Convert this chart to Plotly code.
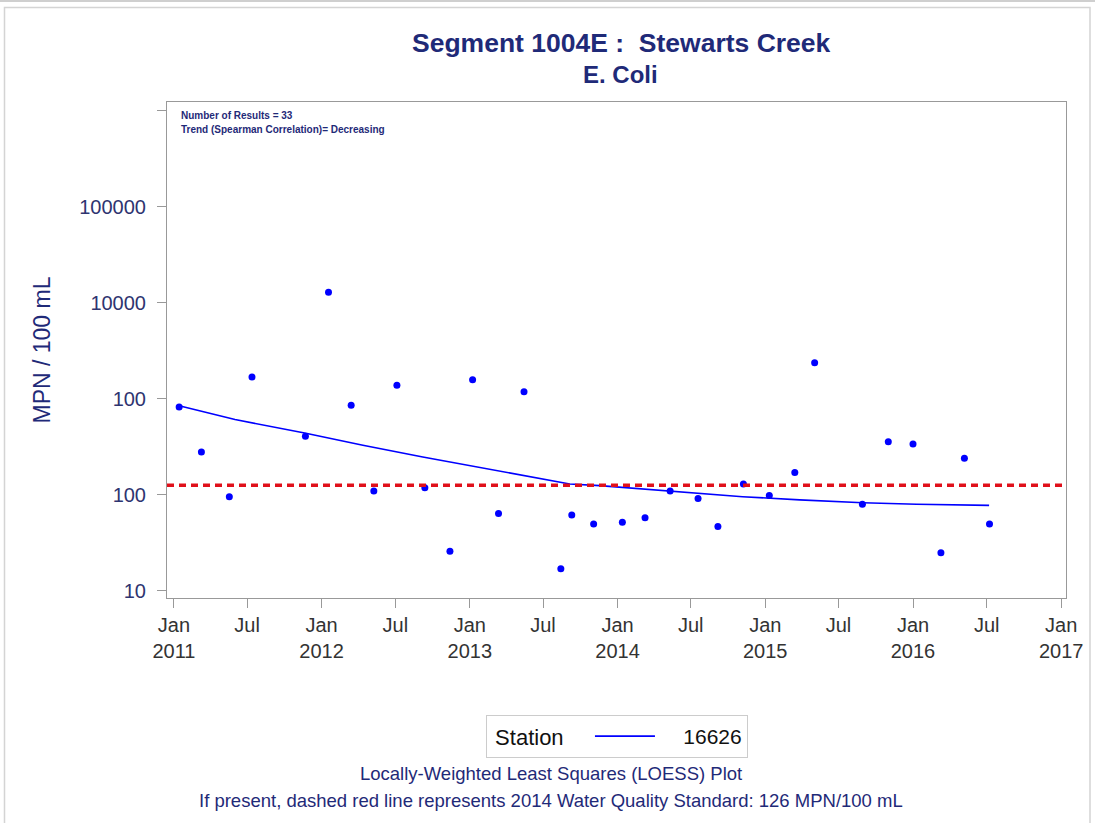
import plotly.graph_objects as go

# ---- data ----
sample_dates = [
    "2011-01-14", "2011-03-10", "2011-05-18", "2011-07-13", "2011-11-22",
    "2012-01-18", "2012-03-14", "2012-05-09", "2012-07-05", "2012-09-12",
    "2012-11-13", "2013-01-08", "2013-03-13", "2013-05-15", "2013-08-14",
    "2013-09-10", "2013-11-03", "2014-01-13", "2014-03-10", "2014-05-11",
    "2014-07-19", "2014-09-06", "2014-11-08", "2015-01-11", "2015-03-15",
    "2015-05-03", "2015-08-29", "2015-11-01", "2016-01-01", "2016-03-10",
    "2016-05-07", "2016-07-08",
]
ecoli_values = [
    826, 281, 96, 1694, 409,
    12900, 859, 110, 1390, 119,
    26, 1589, 64, 1192, 17,
    62, 50, 52, 58, 110,
    92, 47, 130, 99, 171,
    2388, 80, 359, 340, 25,
    241, 50,
]

loess_dates = [
    "2011-01-14", "2011-06-01", "2011-11-20", "2012-04-12", "2012-09-07",
    "2013-03-09", "2013-09-05", "2013-11-18", "2014-05-10", "2014-11-06",
    "2015-03-27", "2015-08-30", "2016-01-10", "2016-07-07",
]
loess_values = [851, 611, 442, 330, 249, 179, 130, 125, 110, 96, 89, 83, 80, 78]

standard_value = 126
station_name = "16626"

x_tick_dates = [
    "2011-01-01", "2011-07-01", "2012-01-01", "2012-07-01", "2013-01-01",
    "2013-07-01", "2014-01-01", "2014-07-01", "2015-01-01", "2015-07-01",
    "2016-01-01", "2016-07-01", "2017-01-01",
]
x_tick_labels = [
    "Jan<br>2011", "Jul", "Jan<br>2012", "Jul", "Jan<br>2013", "Jul",
    "Jan<br>2014", "Jul", "Jan<br>2015", "Jul", "Jan<br>2016", "Jul",
    "Jan<br>2017",
]
y_tick_values = [10, 100, 1000, 10000, 100000, 1000000]
y_tick_labels = ["10", "100", "100", "10000", "100000", ""]

# ---- styling ----
NAVY = "#1f2a78"
FONT = "Liberation Sans, Arial, sans-serif"
W, H = 1095, 823
L, R, T, B = 167, 29, 102, 225
PW, PH = W - L - R, H - T - B


def px_x(px):
    return (px - L) / PW


def px_y(py):
    return (H - B - py) / PH


fig = go.Figure()

fig.add_trace(go.Scatter(
    x=sample_dates, y=ecoli_values, mode="markers",
    marker=dict(color="#0000ff", size=7), showlegend=False, hoverinfo="x+y",
))
fig.add_trace(go.Scatter(
    x=loess_dates, y=loess_values, mode="lines",
    name="&nbsp;&nbsp;&nbsp;&nbsp;" + station_name,
    line=dict(color="#0000ff", width=1.6),
))

fig.add_shape(type="line", xref="paper", x0=0, x1=1, yref="y",
              y0=standard_value, y1=standard_value,
              line=dict(color="#e0101a", width=3.5, dash="7px,5px"))

# page frame
fig.add_shape(type="line", xref="paper", yref="paper",
              x0=px_x(0), x1=px_x(W), y0=px_y(1), y1=px_y(1),
              line=dict(color="#cfcfcf", width=2))
fig.add_shape(type="rect", xref="paper", yref="paper",
              x0=px_x(4.5), x1=px_x(1090), y0=px_y(7.5), y1=px_y(830),
              line=dict(color="#d4d4d4", width=1.5), fillcolor="rgba(0,0,0,0)")

annotations = [
    dict(text="<b>Number of Results = 33</b>", x=px_x(179), y=px_y(116),
         font=dict(size=10, color=NAVY)),
    dict(text="<b>Trend (Spearman Correlation)= Decreasing</b>", x=px_x(179), y=px_y(129),
         font=dict(size=10, color=NAVY)),
]
for a in annotations:
    a.update(xref="paper", yref="paper", xanchor="left", yanchor="middle",
             showarrow=False)

for txt, cy in [("Locally-Weighted Least Squares (LOESS) Plot", 773),
                ("If present, dashed red line represents 2014 Water Quality Standard: 126 MPN/100 mL", 800)]:
    annotations.append(dict(text=txt, x=px_x(551), y=px_y(cy), xref="paper", yref="paper",
                            xanchor="center", yanchor="middle", showarrow=False,
                            font=dict(size=18.5, color=NAVY)))

annotations.append(dict(text="<b>Segment 1004E :&nbsp; Stewarts Creek</b>", x=px_x(621), y=px_y(43),
                        xref="paper", yref="paper", xanchor="center", yanchor="middle",
                        showarrow=False, font=dict(size=26.5, color=NAVY)))
annotations.append(dict(text="<b>E. Coli</b>", x=px_x(620), y=px_y(74),
                        xref="paper", yref="paper", xanchor="center", yanchor="middle",
                        showarrow=False, font=dict(size=24, color=NAVY)))

fig.update_layout(
    width=W, height=H,
    margin=dict(l=L, r=R, t=T, b=B, pad=0),
    paper_bgcolor="white", plot_bgcolor="white",
    font=dict(family=FONT, color=NAVY),
    annotations=annotations,
    showlegend=True,
    legend=dict(
        orientation="h", x=px_x(617), xanchor="center", y=px_y(715), yanchor="top",
        title=dict(text="&nbsp;Station&nbsp;&nbsp;&nbsp;", font=dict(size=22, color="#111111")),
        font=dict(size=21, color="#111111"),
        bordercolor="#cccccc", borderwidth=1, bgcolor="rgba(255,255,255,0)",
        tracegroupgap=0, itemwidth=60,
    ),
    xaxis=dict(
        type="date", range=["2010-12-15", "2017-01-13"],
        tickmode="array", tickvals=x_tick_dates, ticktext=x_tick_labels,
        ticks="outside", ticklen=9, tickcolor="#999999",
        tickfont=dict(size=20, color="#333333"),
        showline=True, linecolor="#999999", linewidth=1, mirror=True,
        showgrid=False, zeroline=False,
    ),
    yaxis=dict(
        type="log", range=[0.927, 6.093],
        tickmode="array", tickvals=y_tick_values, ticktext=y_tick_labels,
        ticks="outside", ticklen=9, tickcolor="#999999",
        tickfont=dict(size=20, color="#2e3470"),
        ticklabelstandoff=7,
        showline=True, linecolor="#999999", linewidth=1, mirror=True,
        showgrid=False, zeroline=False,
        title=dict(text="MPN / 100 mL", font=dict(size=23, color=NAVY), standoff=22),
    ),
)

fig.write_html(
    "out.html",
    config={"displayModeBar": False},
    post_script="document.body.style.margin='0';document.body.style.overflow='hidden';",
)
